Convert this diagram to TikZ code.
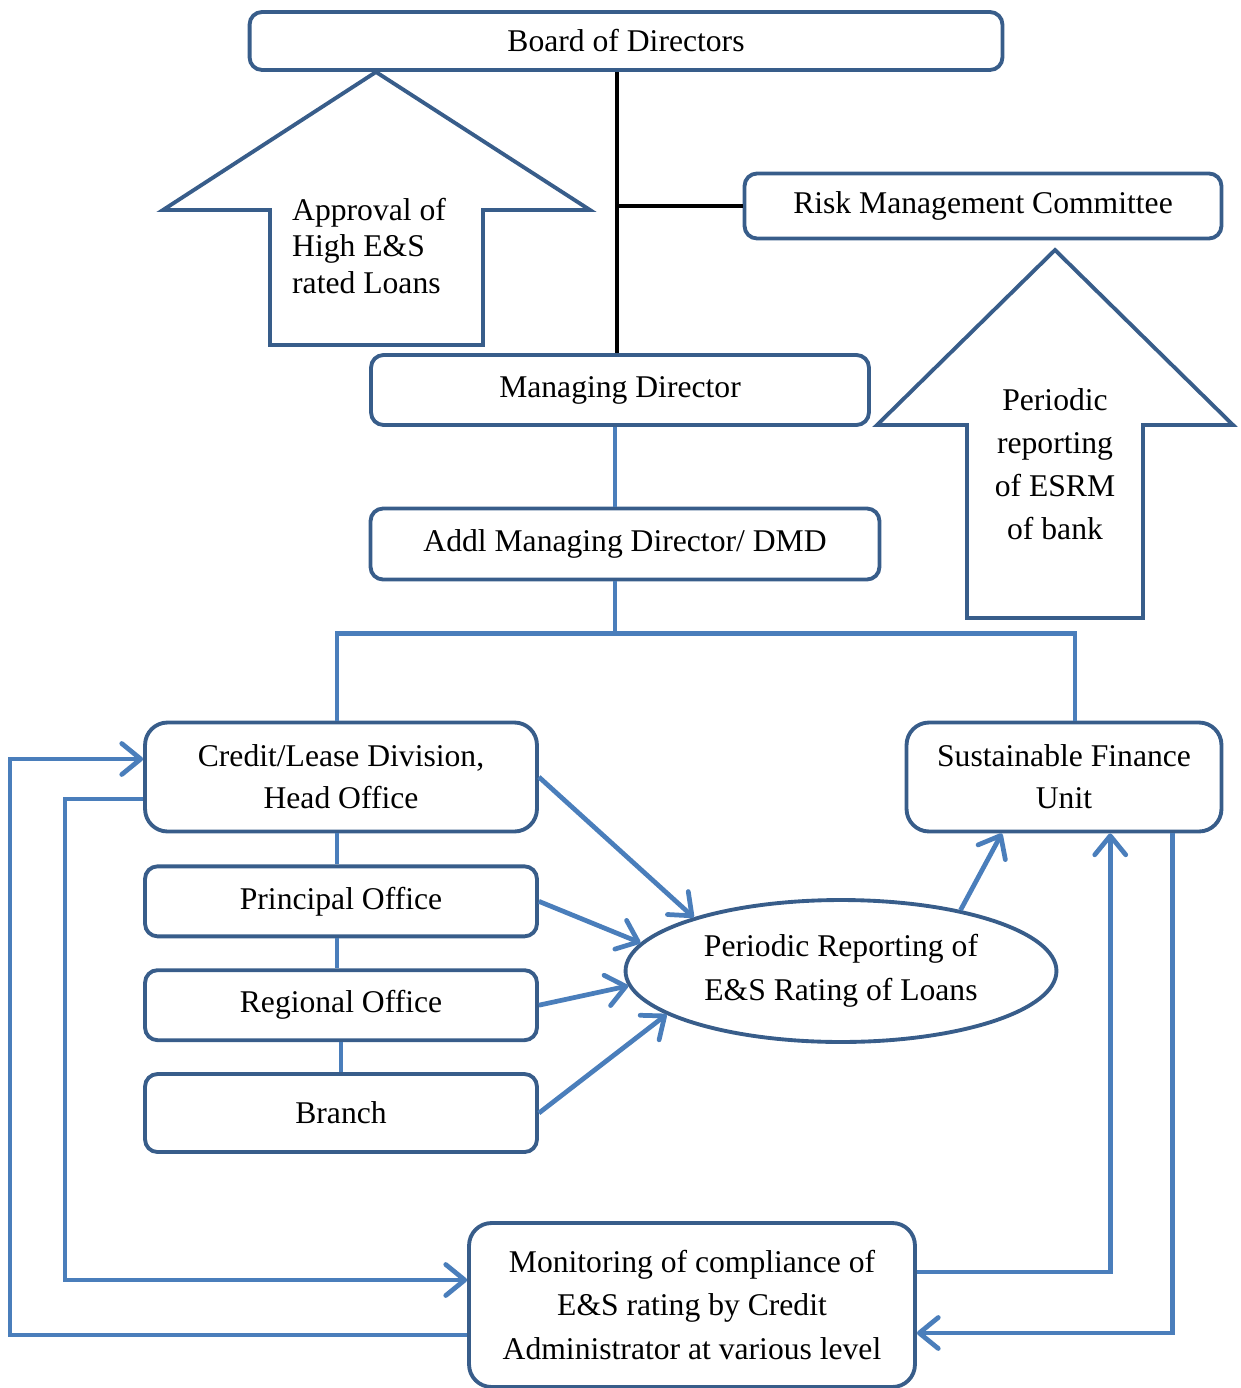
\documentclass[tikz,border=0pt]{standalone}
\usepackage{fontspec}
\setmainfont{Liberation Serif}
\usetikzlibrary{shapes.geometric, arrows.meta, positioning, calc}
\definecolor{boxblue}{HTML}{385D8A}
\definecolor{lineblue}{HTML}{4A7EBB}

\begin{document}
\begin{tikzpicture}[x=0.02cm, y=-0.02cm,
  font=\fontsize{18}{24}\selectfont,
  box/.style={draw=boxblue, line width=2.2pt, rectangle, rounded corners=0.25cm, align=center, inner sep=0pt},
  bigbox/.style={box, rounded corners=0.45cm},
  link/.style={lineblue, line width=2.7pt},
  arrow/.style={link, -{Straight Barb[length=0.38cm, width=0.62cm, round]}},
  blockarrow/.style={draw=boxblue, line width=2.2pt, line join=miter}
]
  \useasboundingbox (0,0) rectangle (1240,1388);

  % block arrows
  \draw[blockarrow] (376,72) -- (590,210) -- (483,210) -- (483,345) -- (270,345) -- (270,210) -- (163,210) -- cycle;
  \draw[blockarrow] (1055,250) -- (1233,425) -- (1143,425) -- (1143,618) -- (967,618) -- (967,425) -- (877,425) -- cycle;
  \node (approval) [align=left, anchor=west, font=\fontsize{18}{21}\selectfont] at (286,246) {Approval of\\High E\&S\\rated Loans};
  \node (esrm) [align=center, font=\fontsize{18}{24.5}\selectfont] at (1055,464) {Periodic\\reporting\\of ESRM\\of bank};

  % boxes
  \node (board) [box, minimum width=15.06cm, minimum height=1.16cm] at (626,41) {Board of Directors};
  \node (rmc) [box, minimum width=9.54cm, minimum height=1.30cm] at (983,206) {Risk Management Committee};
  \node (md) [box, minimum width=9.96cm, minimum height=1.40cm] at (620,390) {Managing Director};
  \node (addl) [box, minimum width=10.18cm, minimum height=1.42cm] at (625,544) {Addl Managing Director/ DMD};
  \node (credit) [bigbox, minimum width=7.84cm, minimum height=2.18cm] at (341,777) {Credit/Lease Division,\\Head Office};
  \node (principal) [box, minimum width=7.84cm, minimum height=1.40cm, below=0.62cm of credit] {Principal Office};
  \node (regional) [box, minimum width=7.84cm, minimum height=1.40cm, below=0.6cm of principal] {Regional Office};
  \node (branch) [box, minimum width=7.84cm, minimum height=1.56cm, below=0.6cm of regional] {Branch};
  \node (sfu) [bigbox, minimum width=6.30cm, minimum height=2.18cm] at (1064,777) {Sustainable Finance\\Unit};
  \node (report) [ellipse, draw=boxblue, line width=2.2pt, minimum width=8.62cm, minimum height=2.84cm, inner sep=0pt, align=center, font=\fontsize{18}{25}\selectfont] at (841,971) {Periodic Reporting of\\E\&S Rating of Loans};
  \node (mon) [bigbox, minimum width=8.92cm, minimum height=3.28cm, font=\fontsize{18}{25}\selectfont] at (692,1305) {Monitoring of compliance of\\E\&S rating by Credit\\Administrator at various level};

  % black lines
  \draw[line width=2.4pt] ([xshift=-0.06cm]board.south -| md.north) -- ([xshift=-0.06cm]md.north);
  \draw[line width=2.4pt] ([xshift=-0.06cm]md.north |- rmc.west) -- (rmc.west);

  % blue links
  \draw[link] ([xshift=-0.1cm]md.south) -- ([xshift=-0.1cm]md.south |- addl.north);
  \draw[link] ([xshift=-0.2cm]addl.south) -- ++(0,52) coordinate (split);
  \draw[link] ([xshift=-0.08cm]credit.north) |- (split) -| ([xshift=0.22cm]sfu.north);
  \draw[link] ([xshift=-0.08cm]credit.south) -- ([xshift=-0.08cm]principal.north);
  \draw[link] ([xshift=-0.08cm]principal.south) -- ([xshift=-0.08cm]regional.north);
  \draw[link] (regional.south) -- (branch.north);

  % arrows to report
  \draw[arrow] (credit.east) -- (report.160);
  \draw[arrow] (principal.east) -- (report.172);
  \draw[arrow] (regional.east) -- (report.184);
  \draw[arrow] (branch.east) -- (report.194);
  \draw[arrow] (report.27) -- ($(sfu.south west)!0.305!(sfu.south east)$);

  % monitoring loops
  \draw[arrow] ([yshift=0.66cm]mon.east) -| ($(sfu.south west)!0.645!(sfu.south east)$);
  \draw[arrow] ($(sfu.south west)!0.84!(sfu.south east)$) |- ([yshift=-0.56cm]mon.east);
  \draw[arrow] ([yshift=-0.6cm]mon.west) -- ++(-457,0) |- ([yshift=0.36cm]credit.west);
  \draw[arrow] ([yshift=-0.44cm]credit.west) -- ++(-78,0) |- ([yshift=0.5cm]mon.west);
\end{tikzpicture}
\end{document}
